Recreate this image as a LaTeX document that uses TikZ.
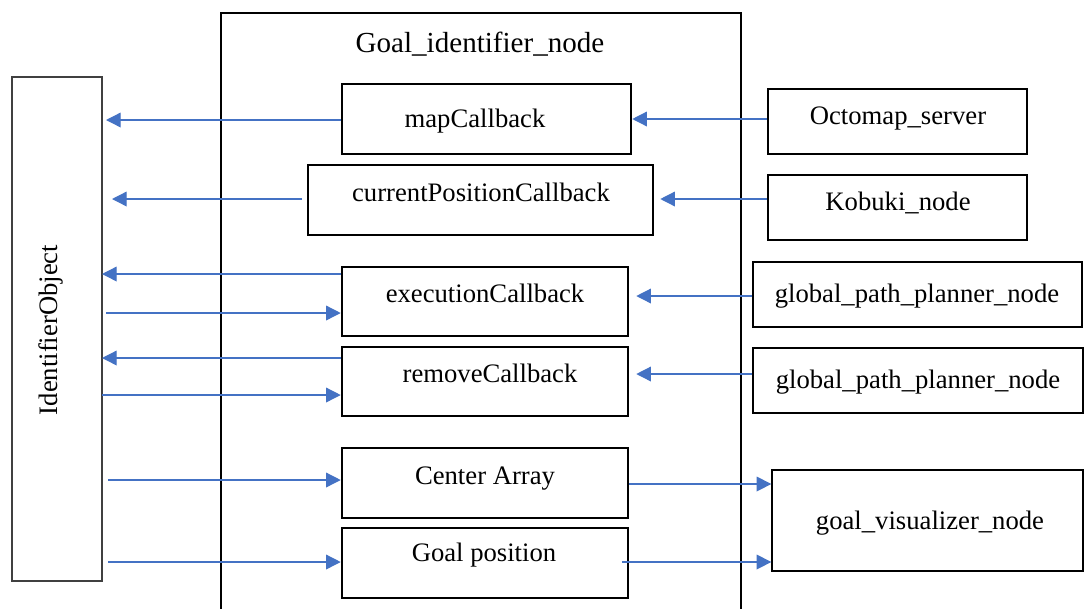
\documentclass[tikz,border=0pt]{standalone}
\usepackage{fontspec}
\setmainfont{Liberation Serif}
\usetikzlibrary{arrows.meta}
\definecolor{flow}{HTML}{4472C4}
% one drawing unit (a pixel of the layout grid)
\newcommand\pxu{0.75pt}
\tikzset{
  box/.style={draw=black, line width=1.9pt, inner sep=0pt, minimum width=#1*\pxu},
  box/.default=286,
  extbox/.style={draw=black, line width=1pt, inner sep=0pt, minimum height=65*\pxu},
  lbl/.style={anchor=base, inner sep=0pt, font=\fontsize{20}{24}\selectfont},
  flowarrow/.style={draw=flow, line width=1pt, -{Triangle[length=11pt,width=11pt]}},
}
\begin{document}
\begin{tikzpicture}[x=0.75pt, y=-0.75pt]
\useasboundingbox (0,0) rectangle (1084,608);
\clip (0,0) rectangle (1084,608);
\fill[white] (0,0) rectangle (1084,608);

% enclosing node frame (open at the bottom)
\draw[line width=2pt] (221,620) -- (221,13) -- (741,13) -- (741,620);
\node[lbl, font=\fontsize{21.8}{26}\selectfont] (title) at (480,52) {Goal\_identifier\_node};

% identifier object on the left
\node[draw=black!75, line width=1pt, inner sep=0pt, minimum width=90*\pxu, minimum height=504*\pxu] (idobj) at (57,329) {};
\node[lbl, rotate=90] (idobjlbl) at (57,330) {IdentifierObject};

% callbacks and outputs inside the node
\node[box=289, minimum height=70*\pxu] (map) at (486.5,119) {};
\node[box=345, minimum height=70*\pxu] (curpos) at (480.5,200) {};
\node[box, minimum height=69*\pxu] (exec) at (485,301.5) {};
\node[box, minimum height=69*\pxu] (remove) at (485,381.5) {};
\node[box, minimum height=70*\pxu] (center) at (485,483) {};
\node[box, minimum height=70*\pxu] (goalpos) at (485,563) {};

\node[lbl] (maplbl) at (475,127) {mapCallback};
\node[lbl] (curposlbl) at (481,201) {currentPositionCallback};
\node[lbl] (execlbl) at (485,302) {executionCallback};
\node[lbl] (removelbl) at (490,382) {removeCallback};
\node[lbl] (centerlbl) at (485,484) {Center Array};
\node[lbl] (goalposlbl) at (484,561) {Goal position};

% external nodes on the right
\node[extbox, minimum width=259*\pxu] (octo) at (897.5,121.5) {};
\node[extbox, minimum width=259*\pxu] (kobuki) at (897.5,207.5) {};
\node[extbox, minimum width=329*\pxu] (gppa) at (917.5,294.5) {};
\node[extbox, minimum width=330*\pxu] (gppb) at (918,380.5) {};
\node[extbox, minimum width=311*\pxu, minimum height=101*\pxu] (vis) at (927.5,520.5) {};

\node[lbl] (octolbl) at (898,124) {Octomap\_server};
\node[lbl] (kobukilbl) at (898,210) {Kobuki\_node};
\node[lbl] (gppalbl) at (917,302) {global\_path\_planner\_node};
\node[lbl] (gppblbl) at (918,388) {global\_path\_planner\_node};
\node[lbl] (vislbl) at (930,529) {goal\_visualizer\_node};

% anchor points on the identifier object side
\coordinate (a1) at (106,120);
\coordinate (a2) at (112,199);
\coordinate (a3) at (102,274);
\coordinate (a4) at (106,313);
\coordinate (a5) at (102,358);
\coordinate (a6) at (102,395);
\coordinate (a7) at (108,480);
\coordinate (a8) at (108,562);
\coordinate (c2) at (302,199);

% callbacks -> identifier object
\draw[flowarrow] (map.west |- a1) -- (a1);
\draw[flowarrow] (c2) -- (a2);
\draw[flowarrow] (exec.west |- a3) -- (a3);
\draw[flowarrow] (a4) -- (exec.west |- a4);
\draw[flowarrow] (remove.west |- a5) -- (a5);
\draw[flowarrow] (a6) -- (remove.west |- a6);
\draw[flowarrow] (a7) -- (center.west |- a7);
\draw[flowarrow] (a8) -- (goalpos.west |- a8);

% external publishers -> callbacks
\draw[flowarrow] (octo.west |- 0,119) -- (map.east |- 0,119);
\draw[flowarrow] (kobuki.west |- 0,199) -- ([xshift=6*\pxu]curpos.east |- 0,199);
\draw[flowarrow] (gppa.west |- 0,296) -- ([xshift=7*\pxu]exec.east |- 0,296);
\draw[flowarrow] (gppb.west |- 0,374) -- ([xshift=7*\pxu]remove.east |- 0,374);

% outputs -> visualizer
\draw[flowarrow] (center.east |- 0,484) -- (vis.west |- 0,484);
\coordinate (g1) at (622,562);
\draw[flowarrow] (g1) -- (vis.west |- g1);
\end{tikzpicture}
\end{document}
